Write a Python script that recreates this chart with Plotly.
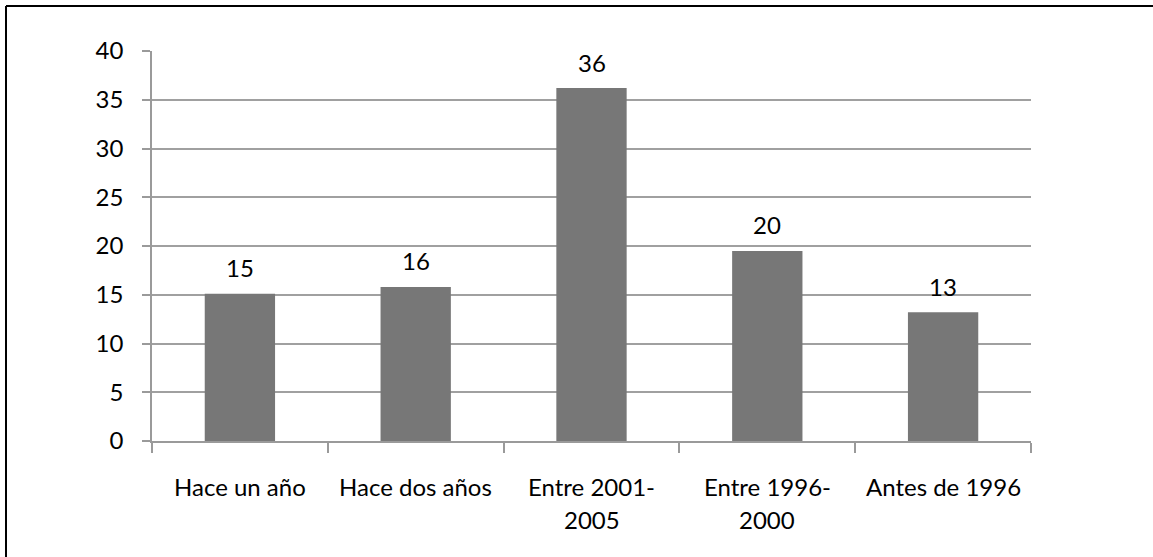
import plotly.graph_objects as go

categories = ["Hace un año", "Hace dos años", "Entre 2001-\n2005", "Entre 1996-\n2000", "Antes de 1996"]
values = [15.1, 15.8, 36.2, 19.5, 13.2]
value_labels = ["15", "16", "36", "20", "13"]
y_ticks = [0, 5, 10, 15, 20, 25, 30, 35, 40]

FONT = "Lato, 'Open Sans', sans-serif"
FS = 24
W, H = 1153, 557
ML, MR, MT, MB = 152, 122, 51, 115.5

cat_keys = [c.replace("\n", " ") for c in categories]

fig = go.Figure(go.Bar(
    x=cat_keys, y=values,
    marker=dict(color="#777777", line=dict(width=0)),
    width=0.4,
))

annotations = []
for k, v, t in zip(cat_keys, values, value_labels):
    annotations.append(dict(x=k, y=v, xref="x", yref="y", text=t, showarrow=False,
                            yshift=26, yanchor="middle",
                            font=dict(family=FONT, size=FS, color="#000000")))
for k, c in zip(cat_keys, categories):
    for i, line in enumerate(c.split("\n")):
        annotations.append(dict(x=k, y=0, xref="x", yref="paper", text=line, showarrow=False,
                                yshift=-45 - 33 * i, yanchor="middle",
                                font=dict(family=FONT, size=FS, color="#000000")))

pw = W - ML - MR
ph = H - MT - MB
bx = (6 - ML) / pw
by = (H - MB - 6) / ph
x_far = (W + 20 - ML) / pw
y_far = (-20 - MB) / ph

border = dict(color="#000000", width=2)
fig.update_layout(
    width=W, height=H,
    margin=dict(l=ML, r=MR, t=MT, b=MB, pad=0),
    paper_bgcolor="white", plot_bgcolor="white",
    showlegend=False,
    font=dict(family=FONT, size=FS, color="#000000"),
    annotations=annotations,
    shapes=[
        dict(type="line", xref="paper", yref="paper", x0=bx, x1=x_far, y0=by, y1=by, line=border, layer="above"),
        dict(type="line", xref="paper", yref="paper", x0=bx, x1=bx, y0=by, y1=y_far, line=border, layer="above"),
    ],
    xaxis=dict(
        type="category", showticklabels=False, ticks="outside", tickson="boundaries",
        ticklen=10, tickcolor="#9a9a9a", tickwidth=1.5,
        showline=True, linecolor="#9a9a9a", linewidth=1.5, showgrid=False,
        range=[-0.5, 4.5], fixedrange=True,
    ),
    yaxis=dict(
        range=[0, 40], tickvals=y_ticks, ticks="outside", ticklen=8,
        tickcolor="#9a9a9a", tickwidth=1.5, ticklabelstandoff=14,
        showgrid=True, gridcolor="#a0a0a0", gridwidth=1.5,
        showline=True, linecolor="#9a9a9a", linewidth=1.5, zeroline=False,
        tickfont=dict(family=FONT, size=FS, color="#000000"),
    ),
)

fig.write_html("out.html", config={"displayModeBar": False},
               post_script="document.body.style.margin='0';document.body.style.overflow='hidden';")
